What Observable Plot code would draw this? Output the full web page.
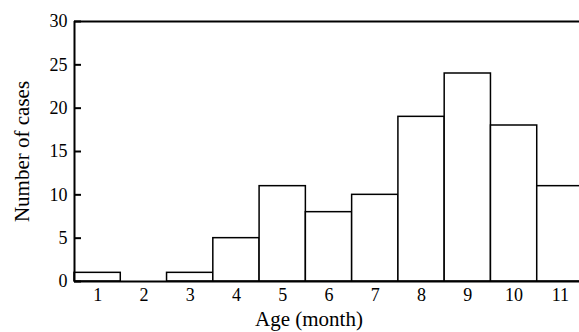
<!DOCTYPE html>
<html>
<head>
<meta charset="utf-8">
<script src="https://cdn.jsdelivr.net/npm/d3@7"></script>
<script src="https://cdn.jsdelivr.net/npm/@observablehq/plot@0.6"></script>
<style>
  html, body { margin: 0; padding: 0; background: #fff; }
</style>
</head>
<body>
<div id="chart"></div>
<script>
const ages = [1, 2, 3, 4, 5, 6, 7, 8, 9, 10, 11];
const cases = [1, 0, 1, 5, 11, 8, 10, 19, 24, 18, 11];
const yTicks = [0, 5, 10, 15, 20, 25, 30];
const xTitle = "Age (month)";
const yTitle = "Number of cases";

const data = ages.map((a, i) => ({age: a, count: cases[i]}));
const serif = "Liberation Serif, DejaVu Serif, serif";

const chart = Plot.plot({
  width: 579,
  height: 332,
  marginLeft: 74,
  marginRight: -4,
  marginTop: 21,
  marginBottom: 51,
  style: {fontFamily: serif, fontSize: "18px", color: "#000", background: "#fff"},
  x: {type: "linear", domain: [0.5, 11.5]},
  y: {domain: [0, 30]},
  marks: [
    Plot.rectY(data, {x1: d => d.age - 0.5, x2: d => d.age + 0.5, y: "count", fill: "white", stroke: "black", strokeWidth: 1.5}),
    Plot.ruleY([0, 30], {stroke: "black", strokeWidth: 2}),
    Plot.ruleX([0.5], {stroke: "black", strokeWidth: 2}),
    Plot.axisY({ticks: yTicks, tickSize: -7, tickPadding: 14, strokeWidth: 2, label: null, fontSize: 18}),
    Plot.axisX({ticks: ages, tickSize: 0, tickPadding: 7, label: null, fontSize: 18}),
    Plot.text([xTitle], {text: d => d, frameAnchor: "bottom", textAnchor: "middle", lineAnchor: "middle", dx: -20, dy: 38, fontSize: 21}),
    Plot.text([yTitle], {text: d => d, frameAnchor: "left", textAnchor: "middle", lineAnchor: "middle", rotate: -90, dx: -52, fontSize: 21})
  ]
});
document.getElementById("chart").appendChild(chart);
</script>
</body>
</html>
